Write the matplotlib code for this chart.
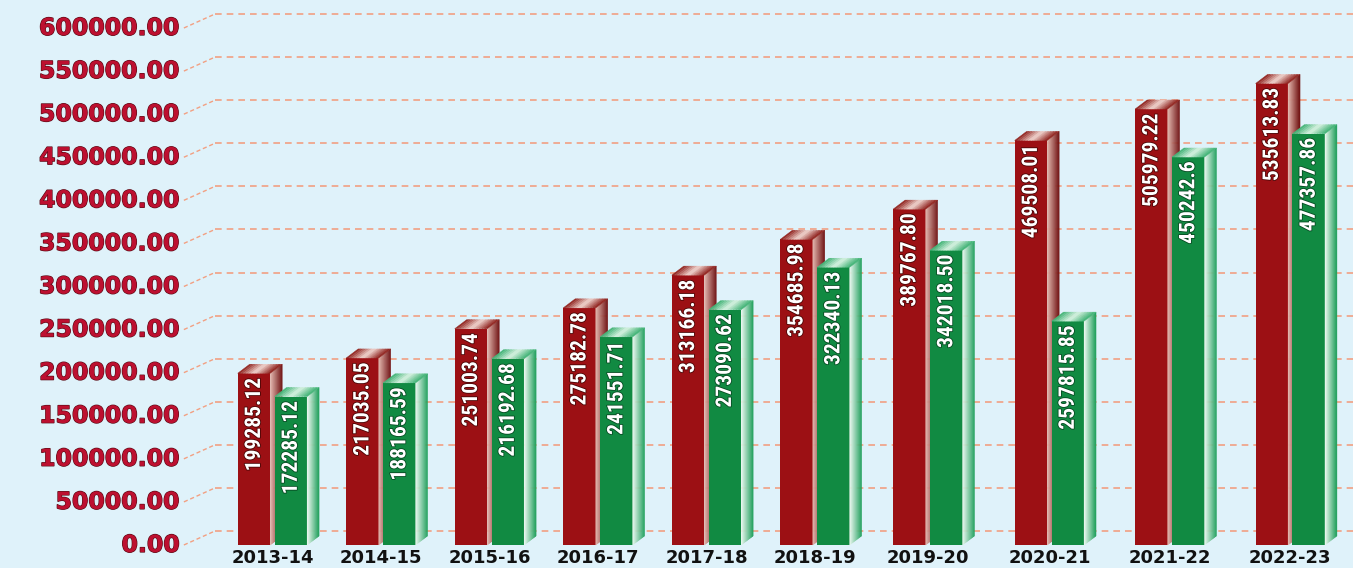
import numpy as np
import matplotlib
matplotlib.use("Agg")
import matplotlib.pyplot as plt
from matplotlib.colors import to_rgb
import matplotlib.patheffects as pe
from matplotlib import font_manager as fm

# ---------------- data ----------------
years = ["2013-14", "2014-15", "2015-16", "2016-17", "2017-18",
         "2018-19", "2019-20", "2020-21", "2021-22", "2022-23"]
red_values = [199285.12, 217035.05, 251003.74, 275182.78, 313166.18,
              354685.98, 389767.80, 469508.01, 505979.22, 535613.83]
green_values = [172285.12, 188165.59, 216192.68, 241551.71, 273090.62,
                322340.13, 342018.50, 259781.85, 450242.6, 477357.86]
red_labels = ["199285.12", "217035.05", "251003.74", "275182.78", "313166.18",
              "354685.98", "389767.80", "469508.01", "505979.22", "535613.83"]
green_labels = ["172285.12", "188165.59", "216192.68", "241551.71", "273090.62",
                "322340.13", "342018.50", "2597815.85", "450242.6", "477357.86"]
y_ticks = [0, 50000, 100000, 150000, 200000, 250000, 300000,
           350000, 400000, 450000, 500000, 550000, 600000]

# ---------------- layout ----------------
positions = [0, 1, 2, 3, 4, 5, 6.04, 7.16, 8.27, 9.38]
BG = "#dff2fa"
RED = "#9c1014"
GREEN = "#118a42"
GRID = "#f2a082"
YLAB = "#bd1030"

names = {f.name for f in fm.fontManager.ttflist}
cond = [n for n in ["Liberation Sans Narrow", "DejaVu Sans Condensed",
                    "Roboto Condensed", "Open Sans Condensed"] if n in names]
val_family = cond + ["DejaVu Sans"]

bw = 0.30       # bar width
gap = 0.04
dx = 0.11       # depth in x (data)
dy = 10500      # depth in y (data)
back = 16200    # back-wall offset of gridlines (data)

fig = plt.figure(figsize=(13.53, 5.68), dpi=100)
fig.patch.set_facecolor(BG)
ax = fig.add_axes([0.1367, 0.0352, 0.8633, 0.9648])
ax.set_facecolor(BG)
ax.set_xlim(-0.806, 9.958)
ax.set_ylim(-3500, 632500)
for s in ax.spines.values():
    s.set_visible(False)
ax.tick_params(length=0)
ax.set_yticks([])

# gridlines on the back wall with slanted connectors to the labels
for v in y_ticks:
    ax.plot([-0.53, 9.958], [v + back, v + back], color=GRID, lw=1.2,
            ls=(0, (4, 3)), zorder=1)
    ax.plot([-0.816, -0.53], [v, v + back], color=GRID, lw=1.0,
            ls=(0, (3, 2)), zorder=1, clip_on=False)
    ax.text(-0.853, v, f"{v:.2f}", ha="right", va="center",
            fontsize=17, fontweight="bold", color=YLAB,
            family="DejaVu Sans", clip_on=False,
            path_effects=[pe.withStroke(linewidth=0.9, foreground="#5a0a14")])


def lerp(c1, c2, t):
    a, b = np.array(to_rgb(c1)), np.array(to_rgb(c2))
    return tuple(a + (b - a) * t)


def draw_bar3d(x0, h, front, side_c1, side_c2, top_c1, top_c2, z):
    ax.add_patch(plt.Rectangle((x0, 0), bw, h, facecolor=front,
                               edgecolor="none", zorder=z))
    n = 12
    xr = x0 + bw
    for k in range(n):
        t0, t1 = k / n, (k + 1) / n
        col = lerp(side_c1, side_c2, (t0 + t1) / 2)
        poly = [(xr + dx * t0, dy * t0), (xr + dx * t1, dy * t1),
                (xr + dx * t1, h + dy * t1), (xr + dx * t0, h + dy * t0)]
        ax.add_patch(plt.Polygon(poly, facecolor=col, edgecolor=col,
                                 lw=0.3, zorder=z))
    for k in range(n):
        t0, t1 = k / n, (k + 1) / n
        tm = (t0 + t1) / 2
        col = lerp(top_c1, top_c2, abs(tm - 0.5) * 2)
        poly = [(x0 + bw * t0, h), (x0 + bw * t1, h),
                (x0 + bw * t1 + dx, h + dy), (x0 + bw * t0 + dx, h + dy)]
        ax.add_patch(plt.Polygon(poly, facecolor=col, edgecolor=col,
                                 lw=0.3, zorder=z))


for i, p in enumerate(positions):
    xr0 = p - gap / 2 - bw
    xg0 = p + gap / 2
    rv, gv = red_values[i], green_values[i]
    draw_bar3d(xr0, rv, RED, "#e6b8ae", "#6e0c0c", "#f3d6cf", "#8c1a16", 2)
    draw_bar3d(xg0, gv, GREEN, "#f2fbf5", "#1c9e58", "#d8f2e2", "#3bb170", 3)
    ax.text(xr0 + bw / 2, rv - 5000, red_labels[i], rotation=90,
            ha="center", va="top", color="white", fontsize=15.5,
            fontweight="bold", family=val_family, fontstretch="condensed",
            zorder=5,
            path_effects=[pe.withStroke(linewidth=1.2, foreground="#4a0606")])
    ax.text(xg0 + bw / 2, gv - 5000, green_labels[i], rotation=90,
            ha="center", va="top", color="white", fontsize=15.5,
            fontweight="bold", family=val_family, fontstretch="condensed",
            zorder=5,
            path_effects=[pe.withStroke(linewidth=1.2, foreground="#064a22")])

ax.set_xticks(positions)
ax.set_xticklabels(years, fontsize=13, fontweight="bold", color="#111111",
                   family="DejaVu Sans")
ax.tick_params(axis="x", pad=1)

fig.savefig("out.png", dpi=100, facecolor=BG)
